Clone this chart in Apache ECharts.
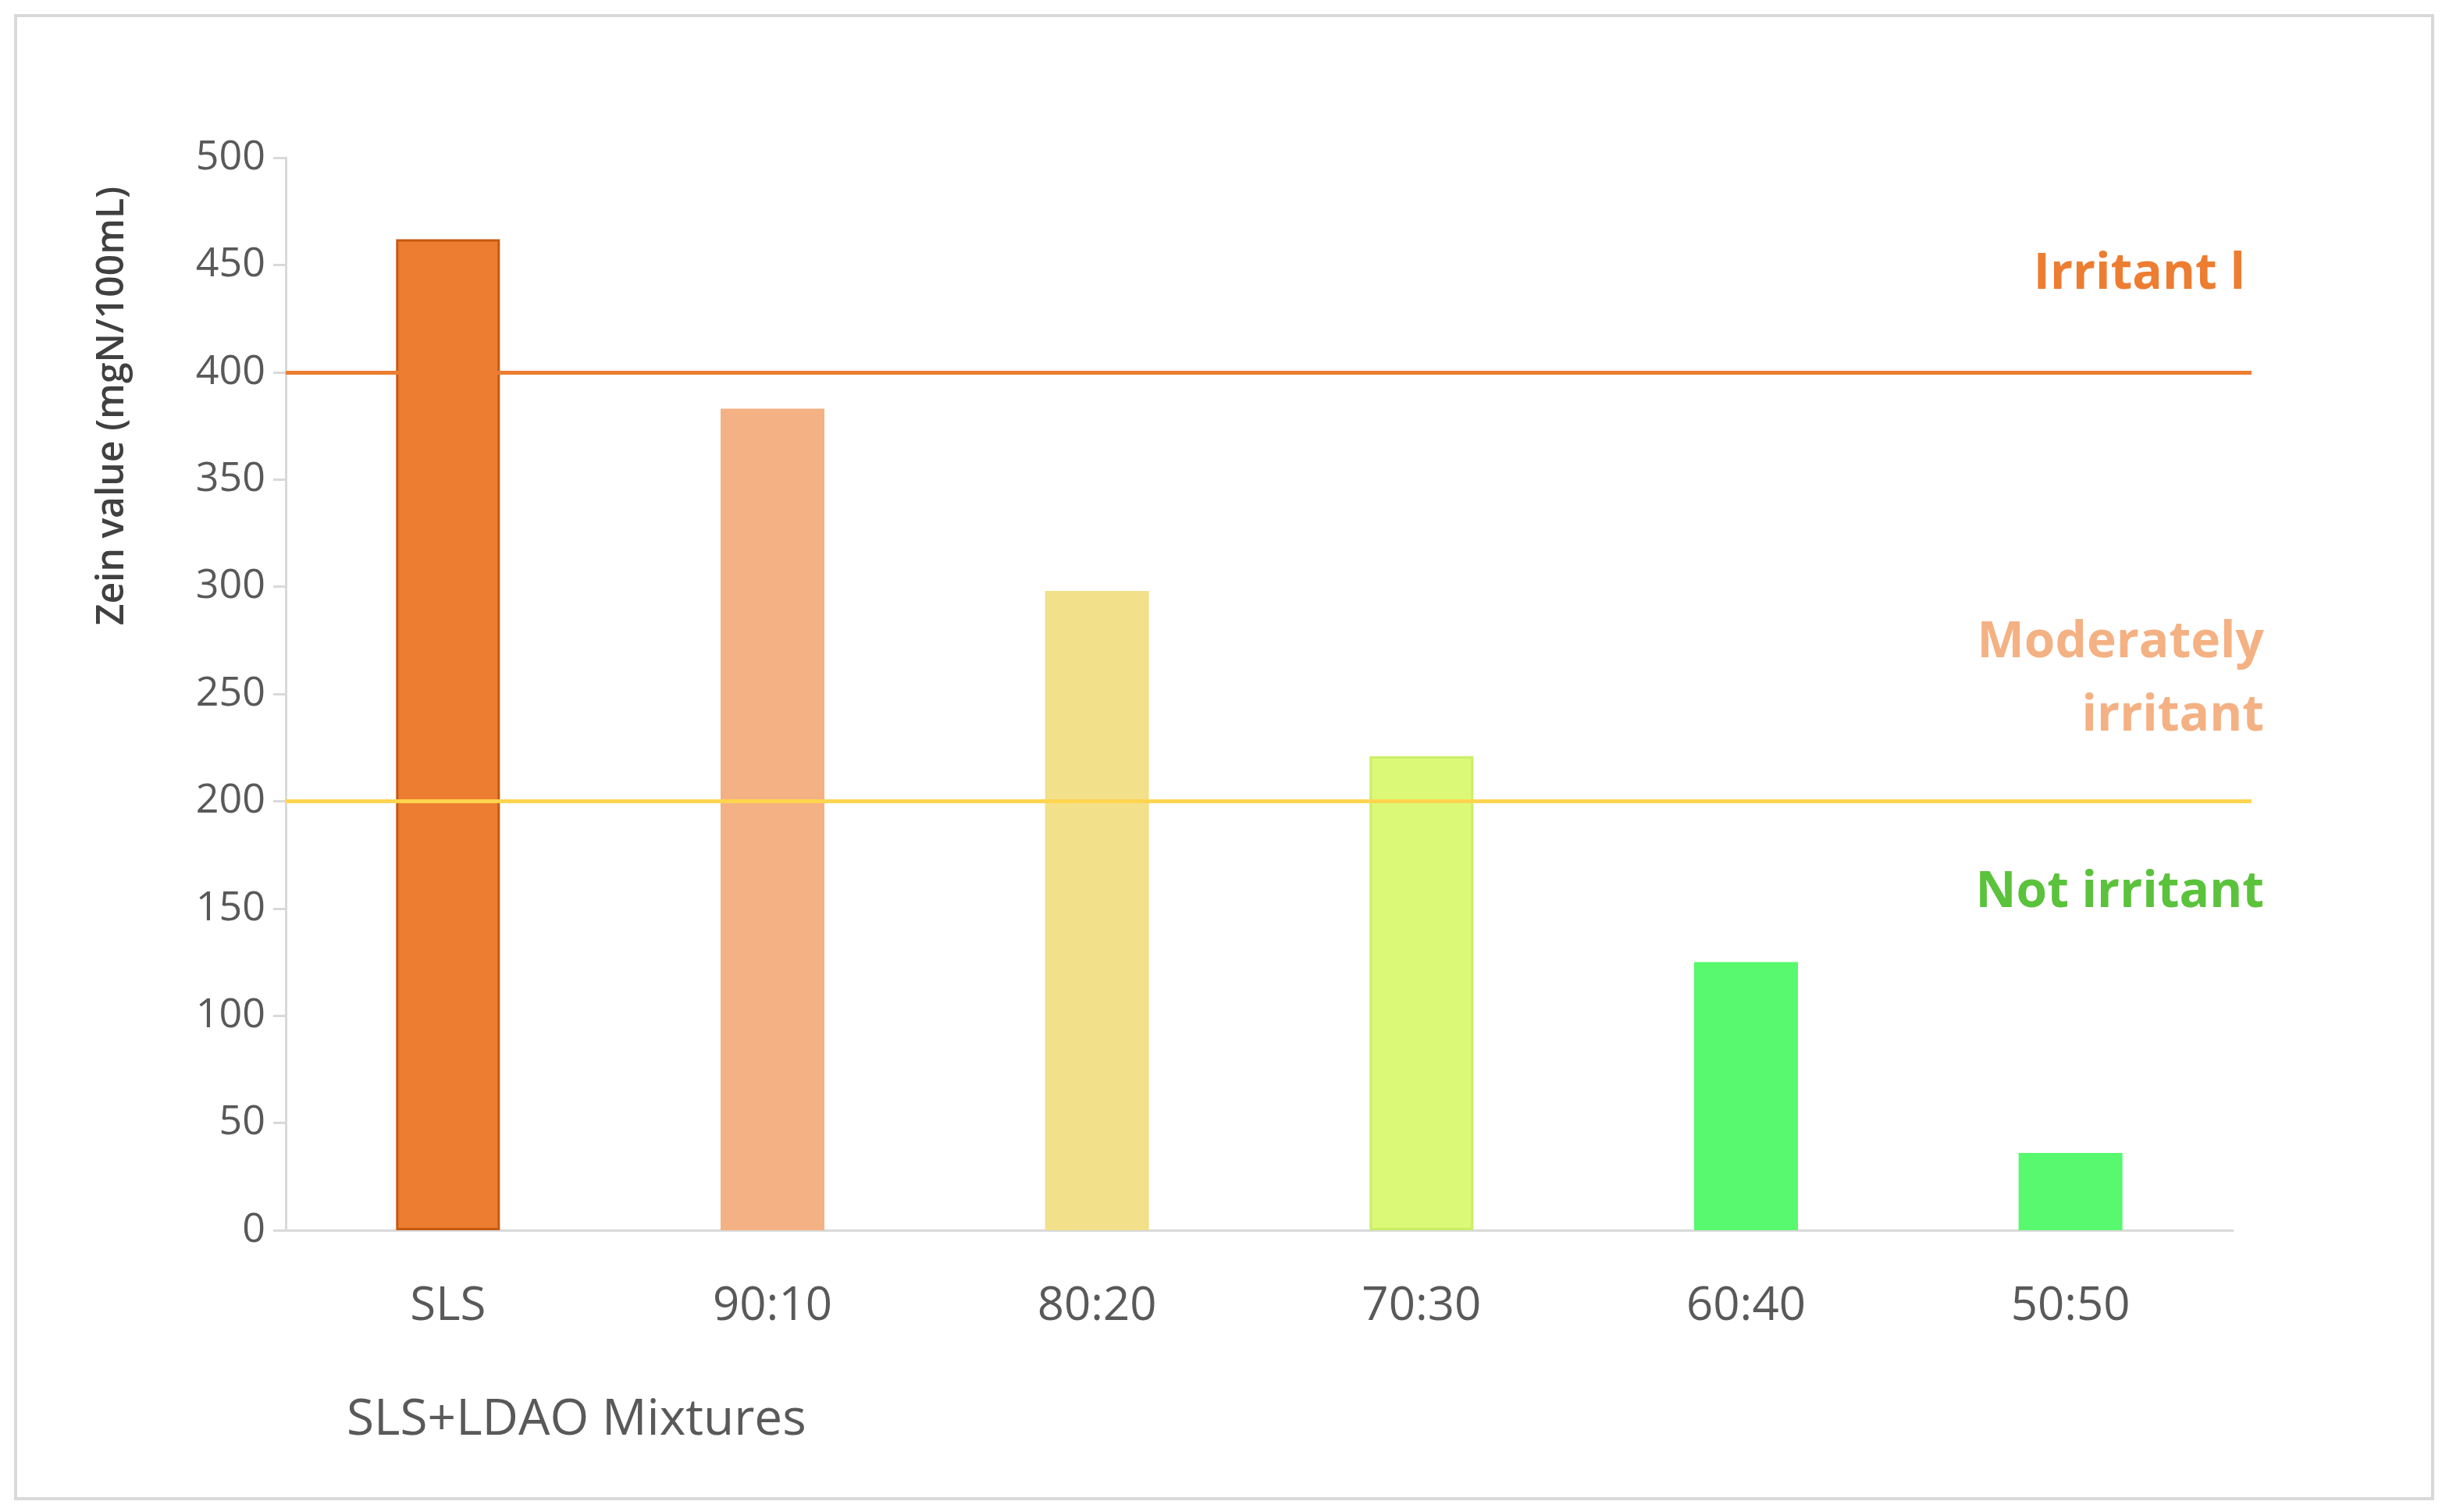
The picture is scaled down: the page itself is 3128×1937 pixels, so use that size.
<!DOCTYPE html>
<html><head><meta charset="utf-8">
<script src="https://cdn.jsdelivr.net/npm/echarts@6/dist/echarts.min.js"></script>
<style>html,body{margin:0;background:#fff}#main{width:3128px;height:1937px}</style>
</head><body><div id="main"></div>
<script>
const categories = ["SLS", "90:10", "80:20", "70:30", "60:40", "50:50"];
const zeinValues = [462, 383, 298, 221, 125, 36];
const barColors = ["#ED7D31", "#F4B183", "#F2E08A", "#DBF977", "#58F86F", "#58F86F"];
const barBorders = ["#C55A11", "#F4B183", "#F2E08A", "#C9EE66", "#58F86F", "#58F86F"];
const thresholds = [400, 200];
const yTicks = { min: 0, max: 500, interval: 50 };
const font = "'Open Sans', 'Noto Sans', sans-serif";

var myChart = echarts.init(document.querySelector("#main"));
myChart.setOption({
  animation: false,
  grid: { left: 366, right: 268, top: 202, bottom: 361 },
  xAxis: {
    type: "category",
    data: categories,
    axisLine: { lineStyle: { color: "#D9D9D9", width: 3 } },
    axisTick: { show: false },
    axisLabel: { margin: 68, fontSize: 60, color: "#595959", fontFamily: font }
  },
  yAxis: {
    type: "value",
    min: yTicks.min, max: yTicks.max, interval: yTicks.interval,
    axisLine: { show: true, lineStyle: { color: "#D9D9D9", width: 3 } },
    axisTick: { show: true, length: 16, lineStyle: { color: "#D9D9D9", width: 3 } },
    splitLine: { show: false },
    axisLabel: { margin: 26, fontSize: 52, color: "#595959", fontFamily: font }
  },
  series: [{
    type: "bar",
    barWidth: "32%",
    data: zeinValues.map((v, i) => ({
      value: v,
      itemStyle: { color: barColors[i], borderColor: barBorders[i], borderWidth: 3 }
    })),
    markLine: {
      silent: true, symbol: "none", label: { show: false },
      data: [
        [{ yAxis: thresholds[0], x: 366, lineStyle: { color: "#ED7D31", width: 5, type: "solid" } }, { yAxis: thresholds[0], x: 2884 }],
        [{ yAxis: thresholds[1], x: 366, lineStyle: { color: "#FFD54F", width: 5, type: "solid" } }, { yAxis: thresholds[1], x: 2884 }]
      ]
    }
  }],
  graphic: [
    { type: "rect", shape: { x: 20, y: 20, width: 3096, height: 1900 }, style: { fill: "none", stroke: "#D9D9D9", lineWidth: 4 } },
    { type: "text", x: 144, y: 520, rotation: Math.PI / 2, style: { text: "Zein value (mgN/100mL)", align: "center", verticalAlign: "middle", fontSize: 48, fontWeight: 600, fill: "#404040", fontFamily: font } },
    { type: "text", x: 2876, y: 352, style: { text: "Irritant l", align: "right", verticalAlign: "middle", fontSize: 64, fontWeight: "bold", fill: "#ED7D31", fontFamily: font } },
    { type: "text", x: 2900, y: 824, style: { text: "Moderately", align: "right", verticalAlign: "middle", fontSize: 64, fontWeight: "bold", fill: "#F4B183", fontFamily: font } },
    { type: "text", x: 2900, y: 918, style: { text: "irritant", align: "right", verticalAlign: "middle", fontSize: 64, fontWeight: "bold", fill: "#F4B183", fontFamily: font } },
    { type: "text", x: 2900, y: 1144, style: { text: "Not irritant", align: "right", verticalAlign: "middle", fontSize: 64, fontWeight: "bold", fill: "#5BC23C", fontFamily: font } },
    { type: "text", x: 444, y: 1820, style: { text: "SLS+LDAO Mixtures", align: "left", verticalAlign: "middle", fontSize: 64, fill: "#595959", fontFamily: font } }
  ]
});
</script></body></html>
